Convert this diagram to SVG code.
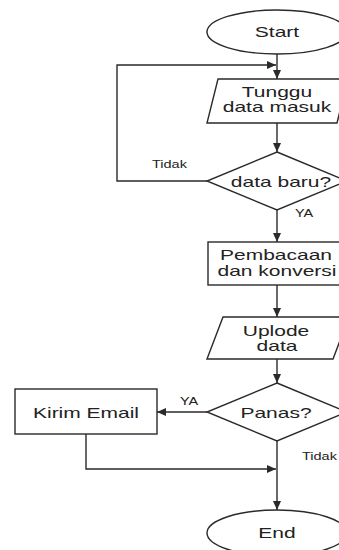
<svg xmlns="http://www.w3.org/2000/svg" width="339" height="550" viewBox="0 0 339 550">
<style>
.s{fill:#fff;stroke:#2a2a2a;stroke-width:1.4}
.c{fill:none;stroke:#2a2a2a;stroke-width:1.4}
text{font-family:"Liberation Sans",Arial,sans-serif;fill:#222}
.t{font-size:14px;text-anchor:middle}
.l{font-size:10px}
</style>
<defs>
<marker id="a" markerUnits="userSpaceOnUse" markerWidth="10" markerHeight="10" refX="9" refY="5" orient="auto">
<path d="M0,1 L9,5 L0,9 Z" fill="#2a2a2a"/>
</marker>
</defs>
<rect width="339" height="550" fill="#fff"/>
<g id="connectors">
<path class="c" d="M277,54 V79" marker-end="url(#a)"/>
<path class="c" d="M207,181 H117 V65 H276" marker-end="url(#a)"/>
<path class="c" d="M277,123 V152" marker-end="url(#a)"/>
<path class="c" d="M277,210 V242" marker-end="url(#a)"/>
<path class="c" d="M277,285 V317" marker-end="url(#a)"/>
<path class="c" d="M277,359 V383" marker-end="url(#a)"/>
<path class="c" d="M207,412 H157" marker-end="url(#a)"/>
<path class="c" d="M86,434 V469 H276" marker-end="url(#a)"/>
<path class="c" d="M277,441 V510" marker-end="url(#a)"/>
<text class="l" transform="translate(152,168) scale(1.45,1)">Tidak</text>
<text class="l" transform="translate(295,217) scale(1.45,1)">YA</text>
<text class="l" transform="translate(180,405) scale(1.45,1)">YA</text>
<text class="l" transform="translate(302,460) scale(1.45,1)">Tidak</text>
</g>
<g id="start">
<ellipse class="s" cx="277" cy="32" rx="70" ry="22"/>
<text class="t" transform="translate(277,37) scale(1.5,1)">Start</text>
</g>
<g id="tunggu">
<polygon class="s" points="218,79 348,79 337,123 207,123"/>
<text class="t" transform="translate(277,97) scale(1.5,1)">Tunggu</text>
<text class="t" transform="translate(277,112) scale(1.5,1)">data masuk</text>
</g>
<g id="databaru">
<polygon class="s" points="277,152 347,181 277,210 207,181"/>
<text class="t" transform="translate(281,187) scale(1.5,1)">data baru?</text>
</g>
<g id="pembacaan">
<rect class="s" x="208" y="242" width="140" height="43"/>
<text class="t" transform="translate(276,260) scale(1.5,1)">Pembacaan</text>
<text class="t" transform="translate(277,276) scale(1.5,1)">dan konversi</text>
</g>
<g id="uplode">
<polygon class="s" points="223,317 349,317 333,359 207,359"/>
<text class="t" transform="translate(276,336) scale(1.5,1)">Uplode</text>
<text class="t" transform="translate(277,351) scale(1.5,1)">data</text>
</g>
<g id="panas">
<polygon class="s" points="277,383 347,412 277,441 207,412"/>
<text class="t" transform="translate(276,418) scale(1.5,1)">Panas?</text>
</g>
<g id="kirim">
<rect class="s" x="15" y="389" width="142" height="45"/>
<text class="t" transform="translate(86,418) scale(1.5,1)">Kirim Email</text>
</g>
<g id="end">
<ellipse class="s" cx="277" cy="533" rx="70" ry="23"/>
<text class="t" transform="translate(277,538) scale(1.5,1)">End</text>
</g>
</svg>
